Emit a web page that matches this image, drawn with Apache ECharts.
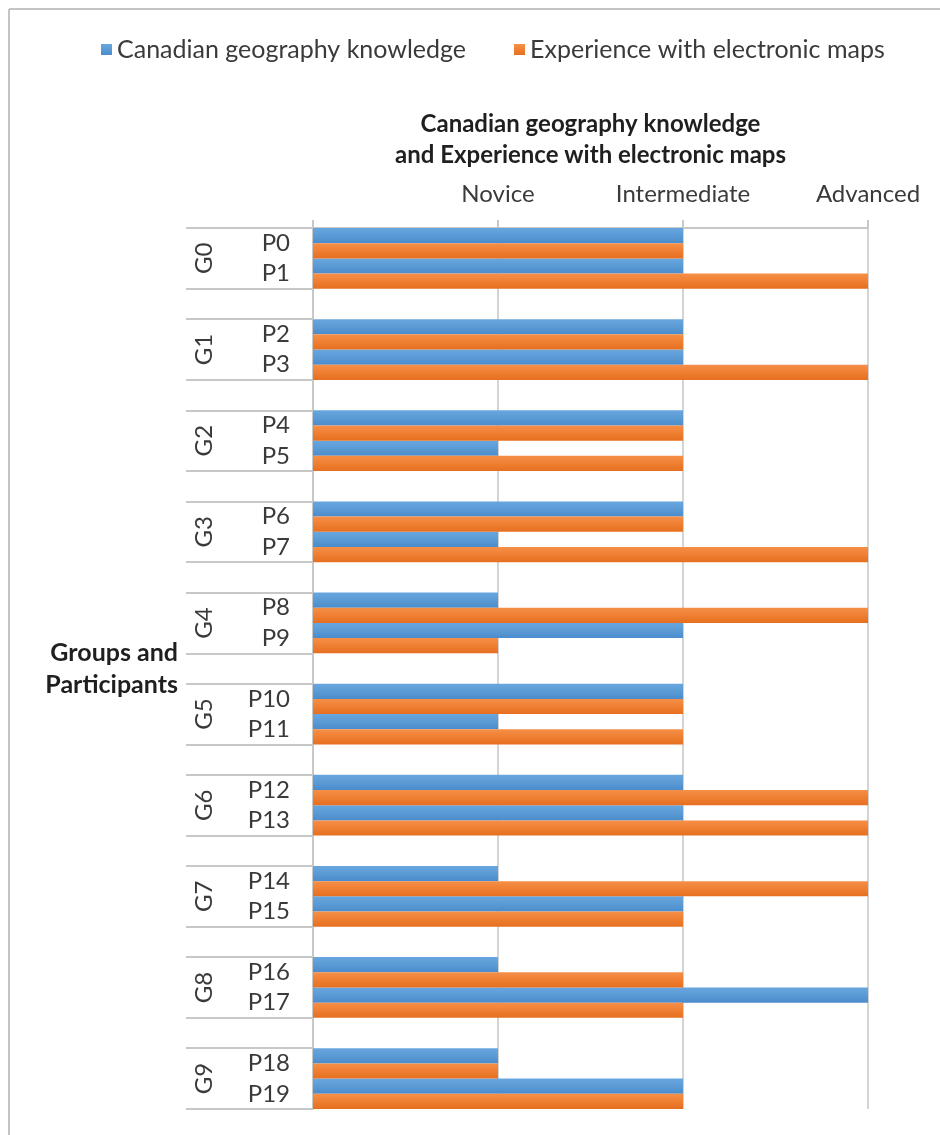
<!DOCTYPE html>
<html>
<head>
<meta charset="utf-8">
<script src="https://cdn.jsdelivr.net/npm/echarts@6/dist/echarts.min.js"></script>
<style>
  html, body { margin: 0; padding: 0; background: #fff; }
  #main { width: 940px; height: 1135px; }
</style>
</head>
<body>
<div id="main"></div>
<script>
// data
var groups = ['G0', 'G1', 'G2', 'G3', 'G4', 'G5', 'G6', 'G7', 'G8', 'G9'];
var participants = ['P0', 'P1', 'P2', 'P3', 'P4', 'P5', 'P6', 'P7', 'P8', 'P9',
    'P10', 'P11', 'P12', 'P13', 'P14', 'P15', 'P16', 'P17', 'P18', 'P19'];
var levels = ['', 'Novice', 'Intermediate', 'Advanced'];
// 1 = Novice, 2 = Intermediate, 3 = Advanced
var geography = [2, 2, 2, 2, 2, 1, 2, 1, 1, 2, 2, 1, 2, 2, 1, 2, 1, 3, 1, 2];
var maps      = [2, 3, 2, 3, 2, 2, 2, 3, 3, 1, 2, 2, 3, 3, 3, 2, 2, 2, 1, 2];

var seriesNames = ['Canadian geography knowledge', 'Experience with electronic maps'];

// two participants per group, an empty slot between groups
var categories = [], geoData = [], mapData = [];
var groupBounds = [], groupCenters = [];
participants.forEach(function (p, i) {
    if (i > 0 && i % 2 === 0) {
        categories.push('');
        geoData.push(null);
        mapData.push(null);
    }
    categories.push(p);
    geoData.push(geography[i]);
    mapData.push(maps[i]);
});
groups.forEach(function (g, k) {
    groupBounds.push(3 * k, 3 * k + 2);
    groupCenters.push(3 * k + 1);
});

var font = 'Lato';
var gray = '#3a3a3a';

var blueFill = new echarts.graphic.LinearGradient(0, 0, 0, 1, [
    { offset: 0, color: '#68a6df' },
    { offset: 0.5, color: '#5b9bd5' },
    { offset: 1, color: '#4a8bcc' }
]);
var orangeFill = new echarts.graphic.LinearGradient(0, 0, 0, 1, [
    { offset: 0, color: '#f58f48' },
    { offset: 0.5, color: '#ef7f32' },
    { offset: 1, color: '#e66f20' }
]);

var chart = echarts.init(document.getElementById('main'));

chart.setOption({
    animation: false,
    textStyle: { fontFamily: font },
    legend: {
        left: 96,
        top: 32,
        icon: 'rect',
        itemWidth: 11,
        itemHeight: 11,
        itemGap: 48,
        textStyle: { fontSize: 25, color: gray, fontFamily: font },
        data: seriesNames
    },
    graphic: [
        { type: 'line', shape: { x1: 9, y1: 9, x2: 940, y2: 9 }, style: { stroke: '#c4c4c4', lineWidth: 2 } },
        { type: 'line', shape: { x1: 9, y1: 9, x2: 9, y2: 1135 }, style: { stroke: '#c4c4c4', lineWidth: 2 } }
    ],
    grid: {
        left: 313,
        right: 72,
        top: 228,
        bottom: 26,
        containLabel: false
    },
    xAxis: {
        type: 'value',
        position: 'top',
        min: 0,
        max: 3,
        interval: 1,
        name: 'Canadian geography knowledge\nand Experience with electronic maps',
        nameLocation: 'middle',
        nameGap: 57,
        nameTextStyle: { fontSize: 24, fontWeight: 'bold', color: '#1f1f1f', lineHeight: 31, fontFamily: font },
        axisLine: { show: true, lineStyle: { color: '#c8c8c8', width: 2 } },
        axisTick: { show: true, length: 8, lineStyle: { color: '#c8c8c8', width: 2 } },
        axisLabel: {
            margin: 22,
            fontSize: 24,
            color: gray,
            formatter: function (v) { return levels[v] || ''; }
        },
        splitLine: { show: true, lineStyle: { color: '#d4d4d4', width: 2 } }
    },
    yAxis: [{
        type: 'category',
        inverse: true,
        data: categories,
        position: 'left',
        name: 'Groups and\nParticipants',
        nameLocation: 'middle',
        nameRotate: 0,
        nameGap: 135,
        nameTextStyle: { fontSize: 25, fontWeight: 'bold', color: '#1f1f1f', lineHeight: 32, fontFamily: font },
        axisLine: { show: true, lineStyle: { color: '#c8c8c8', width: 2 } },
        axisTick: { show: false },
        axisLabel: { margin: 23, fontSize: 24, color: gray, interval: 0 },
        splitLine: { show: false }
    }, {
        type: 'value',
        inverse: true,
        min: 0,
        max: 29,
        position: 'left',
        axisLine: { show: false },
        splitLine: { show: false },
        axisTick: {
            show: true,
            length: 127,
            customValues: groupBounds,
            lineStyle: { color: '#c8c8c8', width: 2 }
        },
        axisLabel: {
            customValues: groupCenters,
            rotate: 90,
            margin: 97,
            fontSize: 24,
            color: gray,
            formatter: function (v) { return groups[(v - 1) / 3]; }
        }
    }],
    series: [{
        name: seriesNames[0],
        type: 'bar',
        yAxisIndex: 0,
        barGap: '0%',
        barCategoryGap: '0%',
        itemStyle: { color: blueFill },
        data: geoData
    }, {
        name: seriesNames[1],
        type: 'bar',
        yAxisIndex: 0,
        barGap: '0%',
        barCategoryGap: '0%',
        itemStyle: { color: orangeFill },
        data: mapData
    }]
});
</script>
</body>
</html>
